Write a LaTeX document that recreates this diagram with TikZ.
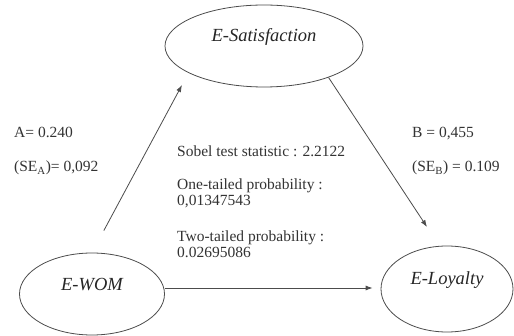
\documentclass[tikz,border=0pt]{standalone}
\usepackage{fontspec}
\setmainfont{Liberation Serif}
\usetikzlibrary{arrows.meta,shapes.geometric,calc}
\begin{document}
\begin{tikzpicture}[x=1pt,y=-1pt,
  ell/.style={draw=black!70,line width=0.8pt,ellipse,inner sep=0pt},
  elltxt/.style={font=\fontsize{18.5}{20}\selectfont\itshape,text=black!85},
  txt/.style={anchor=base west,inner sep=0pt,font=\fontsize{15.5}{17}\selectfont,text=black!80},
  arr/.style={draw=black!70,line width=0.8pt,-{Latex[length=7pt,width=5pt]}}]
\path[use as bounding box,fill=white] (0,0) rectangle (514,336);
\node[ell,minimum width=198pt,minimum height=82pt,label={[elltxt,yshift=9pt]center:E-Satisfaction}] (sat) at (264,46) {};
\node[ell,minimum width=145pt,minimum height=82pt,label={[elltxt,yshift=9pt]center:E-WOM}] (wom) at (92,294) {};
\node[ell,minimum width=132pt,minimum height=86pt,label={[elltxt,yshift=9pt]center:E-Loyalty}] (loy) at (447,289) {};
\coordinate (t1) at (182,85);
\coordinate (t2) at (427,227);
\draw[arr,shorten <=25pt] (wom.north) -- (t1);
\draw[arr] (sat.-26) -- (t2);
\draw[arr,shorten >=8pt] ([yshift=6pt]wom.east) -- ([yshift=6pt]wom.east -| loy.west);
\node[txt] (a) at (14,138) {A= 0.240};
\node[txt] (sea) at (14,172) {(SE\textsubscript{A})= 0,092};
\node[txt] (b) at (412,138) {B = 0,455};
\node[txt] (seb) at (412,172) {(SE\textsubscript{B}) = 0.109};
\node[txt] (sob) at (177,157) {Sobel test statistic : 2.2122};
\node[txt] (one) at (177,190) {One-tailed probability :};
\node[txt] (onev) at (177,206) {0,01347543};
\node[txt] (two) at (177,242) {Two-tailed probability :};
\node[txt] (twov) at (177,258) {0.02695086};
\end{tikzpicture}
\end{document}
